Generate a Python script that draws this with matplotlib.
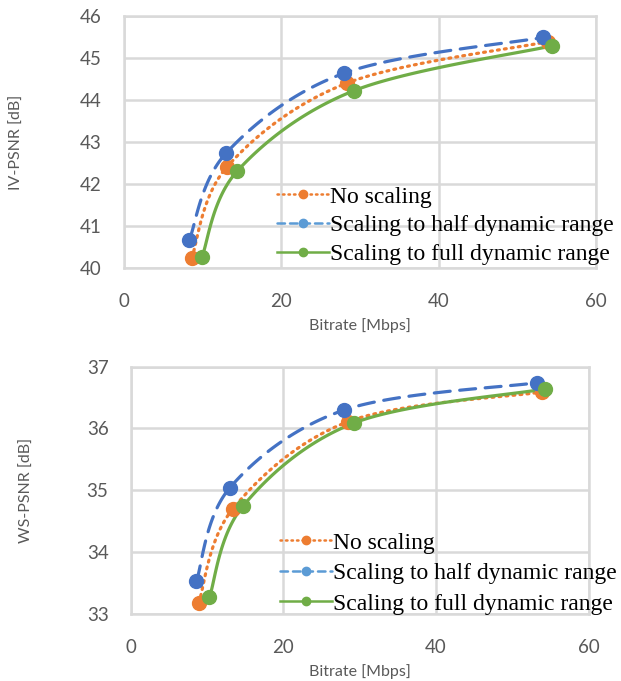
import numpy as np
import matplotlib.pyplot as plt
from matplotlib.lines import Line2D

# bitrate [Mbps] and quality for each series
iv_rate_none = [8.6, 13.1, 28.3, 53.9]
iv_psnr_none = [40.24, 42.41, 44.40, 45.39]
iv_rate_half = [8.3, 13.0, 28.0, 53.3]
iv_psnr_half = [40.67, 42.74, 44.64, 45.49]
iv_rate_full = [9.9, 14.4, 29.2, 54.4]
iv_psnr_full = [40.26, 42.31, 44.22, 45.29]

ws_rate_none = [8.9, 13.4, 28.5, 53.9]
ws_psnr_none = [33.17, 34.70, 36.11, 36.59]
ws_rate_half = [8.6, 13.0, 28.0, 53.2]
ws_psnr_half = [33.52, 35.04, 36.30, 36.74]
ws_rate_full = [10.3, 14.7, 29.3, 54.3]
ws_psnr_full = [33.26, 34.74, 36.09, 36.64]

labels = ['No scaling', 'Scaling to half dynamic range', 'Scaling to full dynamic range']
colors = ['#ED7D31', '#4472C4', '#70AD47']
legend_colors = ['#ED7D31', '#5B9BD5', '#70AD47']
styles = [(0, (0.6, 1.6)), (0, (5, 3)), '-']
legend_styles = [(0, (0.6, 1.6)), (0, (3, 2)), '-']
grid_c = '#D9D9D9'
tick_c = '#595959'

plt.rcParams['font.family'] = ['Lato', 'DejaVu Sans']


def smooth(x, y, n=40):
    # Excel-like smoothed line through the points (Catmull-Rom as Bezier)
    p = np.column_stack([x, y]).astype(float)
    pts = [p[0]]
    t = np.linspace(0, 1, n)[1:, None]
    for i in range(len(p) - 1):
        p0 = p[max(i - 1, 0)]
        p1, p2 = p[i], p[i + 1]
        p3 = p[min(i + 2, len(p) - 1)]
        c1 = p1 + (p2 - p0) / 6
        c2 = p2 - (p3 - p1) / 6
        seg = ((1 - t) ** 3) * p1 + 3 * ((1 - t) ** 2) * t * c1 + 3 * (1 - t) * t ** 2 * c2 + t ** 3 * p2
        pts.extend(seg)
    pts = np.array(pts)
    return pts[:, 0], pts[:, 1]


fig = plt.figure(figsize=(6.21, 6.81), dpi=100)
ax1 = fig.add_axes([0.1997, 0.6065, 0.7603, 0.3700])
ax2 = fig.add_axes([0.2105, 0.0991, 0.7375, 0.3624])

panels = [
    (ax1, [(iv_rate_none, iv_psnr_none), (iv_rate_half, iv_psnr_half), (iv_rate_full, iv_psnr_full)],
     'IV-PSNR [dB]', (40, 46), 40),
    (ax2, [(ws_rate_none, ws_psnr_none), (ws_rate_half, ws_psnr_half), (ws_rate_full, ws_psnr_full)],
     'WS-PSNR [dB]', (33, 37), 38),
]

for ax, series, ylab, ylim, lpad in panels:
    for (xs, ys), c, ls in zip(series, colors, styles):
        sx, sy = smooth(xs, ys)
        ax.plot(sx, sy, color=c, lw=2.3, ls=ls, dash_capstyle='round', zorder=3)
        ax.plot(xs, ys, 'o', color=c, ms=10, zorder=4)
    ax.set_xlim(0, 60)
    ax.set_ylim(*ylim)
    ax.set_xticks([0, 20, 40, 60])
    ax.set_yticks(np.arange(ylim[0], ylim[1] + 0.5, 1))
    ax.grid(True, color=grid_c, lw=1.8)
    ax.set_axisbelow(True)
    for s in ax.spines.values():
        s.set_color(grid_c)
        s.set_linewidth(1.8)
    ax.tick_params(length=0, labelsize=13.5, colors=tick_c)
    ax.tick_params(axis='y', pad=16)
    ax.tick_params(axis='x', pad=18)
    ax.set_xlabel('Bitrate [Mbps]', fontsize=11.5, color=tick_c, labelpad=6)
    ax.set_ylabel(ylab, fontsize=11.5, color=tick_c, labelpad=lpad)

handles = [Line2D([0], [0], color=c, ls=ls, lw=1.8, marker='o', ms=6, dash_capstyle='round')
           for c, ls in zip(legend_colors, legend_styles)]

leg_kw = dict(frameon=False, prop={'family': 'Liberation Serif', 'size': 17},
              handlelength=2.2, handletextpad=0.05,
              borderaxespad=0, borderpad=0, loc='upper left')
fig.legend(handles, labels, bbox_to_anchor=(277 / 621, 1 - 186 / 681), labelspacing=0.31, **leg_kw)
fig.legend(handles, labels, bbox_to_anchor=(280 / 621, 1 - 532 / 681), labelspacing=0.38, **leg_kw)

fig.savefig('out.png', dpi=100)
